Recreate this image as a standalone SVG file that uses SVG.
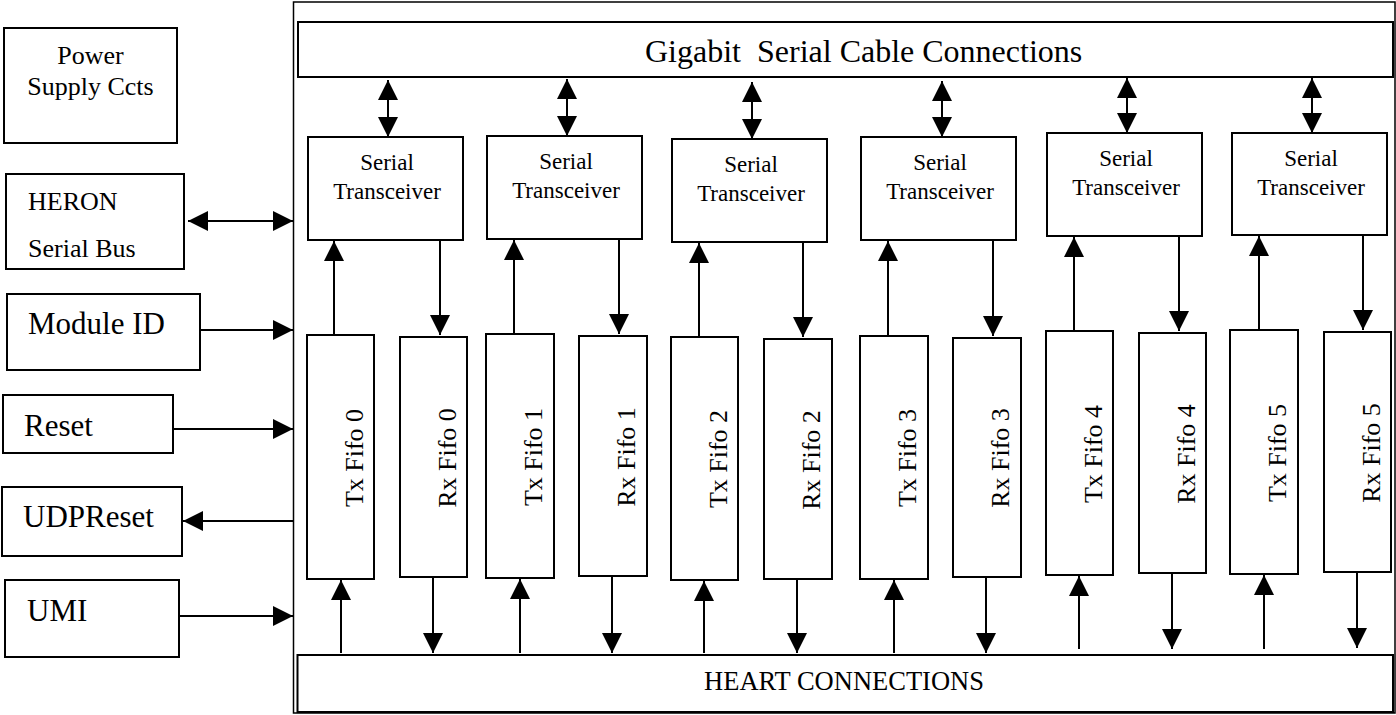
<svg xmlns="http://www.w3.org/2000/svg" width="1396" height="715" viewBox="0 0 1396 715">
<style>
rect{fill:#fff;stroke:#000;stroke-width:2}
text{font-family:"Liberation Serif","Times New Roman",serif;fill:#000}
.t{font-size:23px;text-anchor:middle}
.f{font-size:26px;text-anchor:middle}
.l{font-size:31px}
.p{font-size:26px}
line{stroke:#000;stroke-width:2}
.a{marker-end:url(#ah)}
.b{marker-start:url(#ah);marker-end:url(#ah)}
</style>
<defs>
<marker id="ah" viewBox="0 0 20 20" refX="20" refY="10" markerWidth="20" markerHeight="20" markerUnits="userSpaceOnUse" orient="auto-start-reverse">
<path d="M0,0 L20,10 L0,20 z" fill="#000"/>
</marker>
</defs>
<rect id="outer" x="293.5" y="2" width="1101.5" height="711" style="stroke-width:1.5"/>
<g id="gigabit"><rect x="298" y="22" width="1095" height="55"/><text x="645" y="62" style="font-size:32px;white-space:pre" xml:space="preserve">Gigabit  Serial Cable Connections</text></g>
<g id="heart"><rect x="297.5" y="655" width="1095.5" height="57"/><text x="844" y="690" style="font-size:26.5px;text-anchor:middle">HEART CONNECTIONS</text></g>
<g id="power"><rect x="4" y="28" width="173" height="115"/><text class="p" x="90.5" y="64" text-anchor="middle">Power</text><text class="p" x="90.5" y="95" text-anchor="middle">Supply Ccts</text></g>
<g id="heron"><rect x="6" y="174" width="178" height="95"/><text class="p" x="28" y="210">HERON</text><text class="p" x="28" y="257">Serial Bus</text></g>
<g id="moduleid"><rect x="7" y="294" width="193" height="76"/><text class="l" x="28" y="334">Module ID</text></g>
<g id="reset"><rect x="3" y="395" width="170" height="58"/><text class="l" x="24" y="436">Reset</text></g>
<g id="udpreset"><rect x="2" y="487" width="180" height="69"/><text class="l" x="23" y="527">UDPReset</text></g>
<g id="umi"><rect x="5" y="580" width="174" height="77"/><text class="l" x="27" y="621">UMI</text></g>
<g id="st0"><rect x="308" y="137" width="155" height="103"/><text class="t" x="387" y="170">Serial</text><text class="t" x="387" y="199">Transceiver</text></g>
<g id="st1"><rect x="487" y="136" width="155" height="103"/><text class="t" x="566" y="169">Serial</text><text class="t" x="566" y="198">Transceiver</text></g>
<g id="st2"><rect x="672" y="139" width="155" height="103"/><text class="t" x="751" y="172">Serial</text><text class="t" x="751" y="201">Transceiver</text></g>
<g id="st3"><rect x="861" y="137" width="155" height="103"/><text class="t" x="940" y="170">Serial</text><text class="t" x="940" y="199">Transceiver</text></g>
<g id="st4"><rect x="1047" y="133" width="155" height="103"/><text class="t" x="1126" y="166">Serial</text><text class="t" x="1126" y="195">Transceiver</text></g>
<g id="st5"><rect x="1232" y="133" width="155" height="102"/><text class="t" x="1311" y="166">Serial</text><text class="t" x="1311" y="195">Transceiver</text></g>
<g id="tx0"><rect x="307" y="335" width="67" height="244"/><text class="f" transform="translate(362.5,458) rotate(-90)">Tx Fifo 0</text></g>
<g id="rx0"><rect x="400" y="337" width="67" height="240"/><text class="f" transform="translate(455.5,458) rotate(-90)">Rx Fifo 0</text></g>
<g id="tx1"><rect x="486" y="334" width="68" height="244"/><text class="f" transform="translate(542,457) rotate(-90)">Tx Fifo 1</text></g>
<g id="rx1"><rect x="579" y="336" width="68" height="240"/><text class="f" transform="translate(635,457) rotate(-90)">Rx Fifo 1</text></g>
<g id="tx2"><rect x="671" y="337" width="67" height="243"/><text class="f" transform="translate(726.5,459) rotate(-90)">Tx Fifo 2</text></g>
<g id="rx2"><rect x="764" y="339" width="68" height="240"/><text class="f" transform="translate(820,460) rotate(-90)">Rx Fifo 2</text></g>
<g id="tx3"><rect x="860" y="336" width="68" height="243"/><text class="f" transform="translate(916,458) rotate(-90)">Tx Fifo 3</text></g>
<g id="rx3"><rect x="953" y="338" width="68" height="239"/><text class="f" transform="translate(1009,458) rotate(-90)">Rx Fifo 3</text></g>
<g id="tx4"><rect x="1046" y="331" width="67" height="244"/><text class="f" transform="translate(1101.5,454) rotate(-90)">Tx Fifo 4</text></g>
<g id="rx4"><rect x="1139" y="333" width="67" height="240"/><text class="f" transform="translate(1194.5,454) rotate(-90)">Rx Fifo 4</text></g>
<g id="tx5"><rect x="1230" y="330" width="68" height="244"/><text class="f" transform="translate(1286,453) rotate(-90)">Tx Fifo 5</text></g>
<g id="rx5"><rect x="1324" y="332" width="67" height="240"/><text class="f" transform="translate(1379.5,453) rotate(-90)">Rx Fifo 5</text></g>
<g id="connectors">
<line class="b" x1="188" y1="221" x2="293" y2="221"/>
<line class="a" x1="200" y1="330" x2="293" y2="330"/>
<line class="a" x1="173" y1="429" x2="293" y2="429"/>
<line class="a" x1="293" y1="521" x2="183" y2="521"/>
<line class="a" x1="179" y1="616" x2="293" y2="616"/>
<line class="b" x1="388" y1="80" x2="388" y2="137"/>
<line class="b" x1="567" y1="79" x2="567" y2="136"/>
<line class="b" x1="752" y1="82" x2="752" y2="139"/>
<line class="b" x1="942" y1="81" x2="942" y2="137"/>
<line class="b" x1="1127" y1="78" x2="1127" y2="133"/>
<line class="b" x1="1312" y1="78" x2="1312" y2="133"/>
<line class="a" x1="334" y1="335" x2="334" y2="241"/>
<line class="a" x1="440" y1="240" x2="440" y2="335"/>
<line class="a" x1="514" y1="334" x2="514" y2="240"/>
<line class="a" x1="619" y1="239" x2="619" y2="334"/>
<line class="a" x1="699" y1="337" x2="699" y2="243"/>
<line class="a" x1="803" y1="242" x2="803" y2="337"/>
<line class="a" x1="888" y1="336" x2="888" y2="241"/>
<line class="a" x1="993" y1="240" x2="993" y2="336"/>
<line class="a" x1="1074" y1="331" x2="1074" y2="237"/>
<line class="a" x1="1179" y1="236" x2="1179" y2="331"/>
<line class="a" x1="1259" y1="330" x2="1259" y2="236"/>
<line class="a" x1="1363" y1="235" x2="1363" y2="330"/>
<line class="a" x1="341" y1="653" x2="341" y2="580"/>
<line class="a" x1="433" y1="577" x2="433" y2="653"/>
<line class="a" x1="520" y1="653" x2="520" y2="579"/>
<line class="a" x1="612" y1="576" x2="612" y2="653"/>
<line class="a" x1="704" y1="653" x2="704" y2="581"/>
<line class="a" x1="797" y1="579" x2="797" y2="653"/>
<line class="a" x1="894" y1="653" x2="894" y2="580"/>
<line class="a" x1="986" y1="577" x2="986" y2="653"/>
<line class="a" x1="1079" y1="649" x2="1079" y2="576"/>
<line class="a" x1="1172" y1="573" x2="1172" y2="649"/>
<line class="a" x1="1264" y1="649" x2="1264" y2="575"/>
<line class="a" x1="1357" y1="572" x2="1357" y2="648"/>
</g>
</svg>
